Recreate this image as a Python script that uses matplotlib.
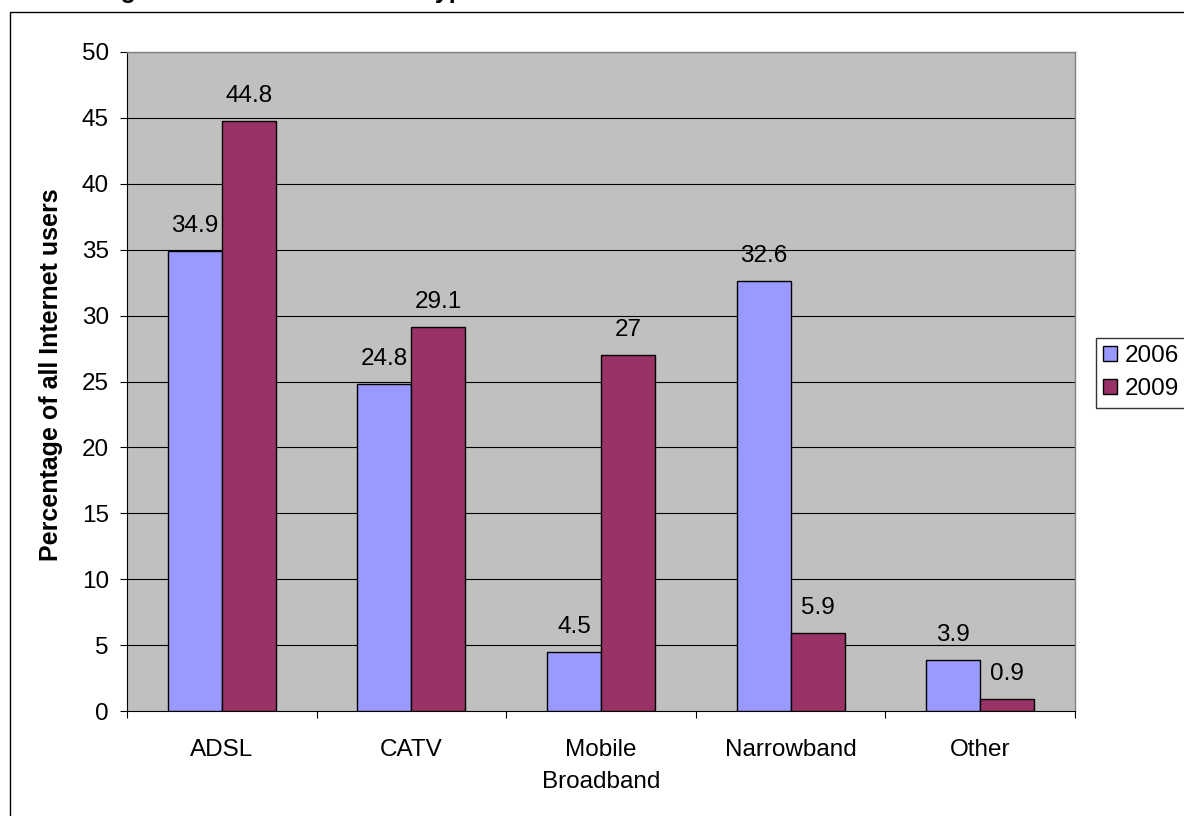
import matplotlib
matplotlib.use("Agg")
import matplotlib.pyplot as plt
import numpy as np
from matplotlib.patches import Rectangle

plt.rcParams['font.family'] = ['Liberation Sans', 'DejaVu Sans']

categories = ["ADSL", "CATV", "Mobile\nBroadband", "Narrowband", "Other"]
years = ["2006", "2009"]
values_2006 = [34.9, 24.8, 4.5, 32.6, 3.9]
values_2009 = [44.8, 29.1, 27, 5.9, 0.9]
value_labels_2006 = ["34.9", "24.8", "4.5", "32.6", "3.9"]
value_labels_2009 = ["44.8", "29.1", "27", "5.9", "0.9"]
y_ticks = [0, 5, 10, 15, 20, 25, 30, 35, 40, 45, 50]

W, H = 1184, 816
FS = 17.5
fig = plt.figure(figsize=(W / 100, H / 100), dpi=100)
fig.patch.set_facecolor("white")

def px(x0, y0, x1, y1):
    return [x0 / W, 1 - y1 / H, (x1 - x0) / W, (y1 - y0) / H]

# outer chart frame (right/bottom run off the canvas)
fig.patches.append(Rectangle((10 / W, -0.1), 1.2, 1 - 12 / H + 0.1,
                             transform=fig.transFigure, fill=False,
                             edgecolor="black", linewidth=1.0, zorder=0))

# title, sitting mostly above the top edge
fig.text(15 / W, 1 + 2 / H, "Percentage of Internet connection types",
         fontsize=18, fontweight="bold", ha="left", va="baseline")

ax = fig.add_axes(px(127, 52, 1075, 711))
ax.set_facecolor("#C0C0C0")

x = np.arange(len(categories))
bw = 0.285
bars06 = ax.bar(x - bw / 2, values_2006, bw, color="#9999FF", edgecolor="black",
                linewidth=1.0, label=years[0], zorder=3)
bars09 = ax.bar(x + bw / 2, values_2009, bw, color="#993366", edgecolor="black",
                linewidth=1.0, label=years[1], zorder=3)

for bars, labels in ((bars06, value_labels_2006), (bars09, value_labels_2009)):
    for b, lab in zip(bars, labels):
        ax.annotate(lab, (b.get_x() + b.get_width() / 2, b.get_height()),
                    xytext=(0, 14), textcoords="offset pixels",
                    ha="center", va="bottom", fontsize=FS)

ax.set_xlim(-0.5, len(categories) - 0.5)
ax.set_ylim(0, 50)
ax.set_yticks(y_ticks)
ax.set_yticklabels([str(t) for t in y_ticks], fontsize=FS)
for t in y_ticks[1:]:
    ax.axhline(t, color="black", linewidth=0.8, zorder=1)

ax.set_xticks(x)
ax.set_xticklabels(categories, fontsize=FS, linespacing=1.6)
ax.set_xticks(np.arange(len(categories) + 1) - 0.5, minor=True)
ax.tick_params(axis="x", which="major", length=0, pad=20)
ax.tick_params(axis="x", which="minor", length=5, width=0.8, direction="out")
ax.tick_params(axis="y", length=5, width=0.8, direction="out", pad=8)

for s in ("top", "right"):
    ax.spines[s].set_color("#808080")
    ax.spines[s].set_linewidth(1.0)
for s in ("left", "bottom"):
    ax.spines[s].set_color("black")
    ax.spines[s].set_linewidth(0.8)

ax.set_ylabel("Percentage of all Internet users", fontsize=18, fontweight="bold")
ax.yaxis.set_label_coords((63 - 127) / 948, (711 - 375) / 659)

leg = fig.legend(handles=[bars06, bars09], labels=years,
                 loc="upper left", bbox_to_anchor=(1096 / W, 1 - 338 / H),
                 frameon=True, fancybox=False, fontsize=FS, handlelength=0.55,
                 handleheight=0.55, handletextpad=0.35, borderpad=0.3,
                 labelspacing=0.45, borderaxespad=0)
leg.get_frame().set_edgecolor("black")
leg.get_frame().set_linewidth(1.0)

fig.savefig("out.png", dpi=100)
